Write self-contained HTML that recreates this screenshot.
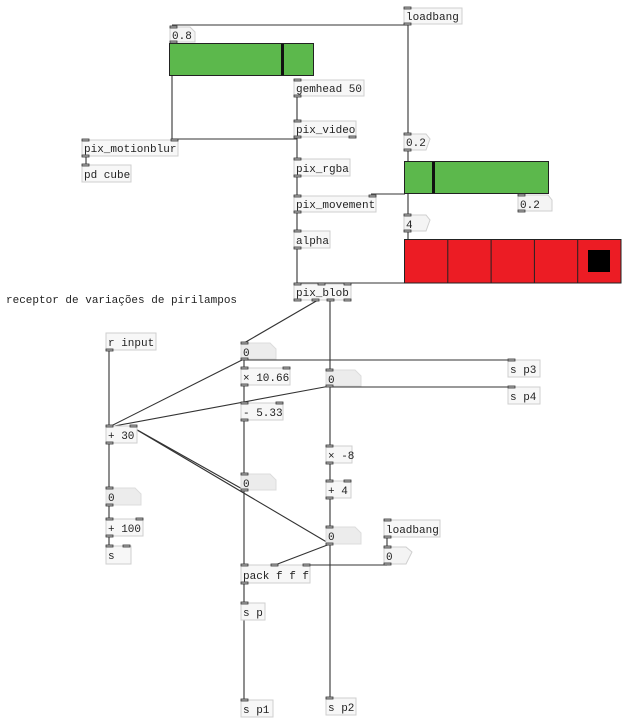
<!DOCTYPE html>
<html><head><meta charset="utf-8"><style>
html,body{margin:0;padding:0;background:#fff;width:624px;height:720px;overflow:hidden}
svg{display:block}
text{font-family:"Liberation Mono",monospace;font-size:11px;fill:#222}
.b{fill:#f7f7f7;stroke:#cfcfcf;stroke-width:1}
.n{fill:#ececec;stroke:#dcdcdc;stroke-width:1}
.f{fill:#f4f4f4;stroke:#cfcfcf;stroke-width:1}
.io{fill:#bbb;stroke:#333;stroke-width:0.8}
.w{stroke:#333;stroke-width:1.1;fill:none}
</style></head><body>
<svg width="624" height="720" viewBox="0 0 624 720" xmlns="http://www.w3.org/2000/svg">
<!-- wires -->
<g class="w">
<line x1="172" y1="25" x2="408" y2="25"/>
<line x1="408" y1="24" x2="408" y2="283"/>
<line x1="172" y1="76" x2="172" y2="140"/>
<line x1="172" y1="139" x2="297" y2="139"/>
<line x1="297" y1="96" x2="297" y2="284"/>
<line x1="86" y1="156" x2="86" y2="165"/>
<line x1="371" y1="194" x2="405" y2="194"/>
<line x1="297" y1="283" x2="405" y2="283"/>
<line x1="318" y1="300" x2="244" y2="343"/>
<line x1="330" y1="300" x2="330" y2="698"/>
<line x1="244" y1="359" x2="244" y2="700"/>
<line x1="244" y1="360" x2="510" y2="360"/>
<line x1="330" y1="387" x2="510" y2="387"/>
<line x1="109" y1="350" x2="109" y2="546"/>
<line x1="109" y1="427" x2="244" y2="359"/>
<line x1="109" y1="427" x2="330" y2="386"/>
<line x1="132" y1="427" x2="244" y2="490"/>
<line x1="132" y1="427" x2="330" y2="544"/>
<line x1="330" y1="544" x2="275" y2="565"/>
<line x1="300" y1="565" x2="387" y2="565"/>
<line x1="387" y1="537" x2="387" y2="547"/>
</g>
<!-- loadbang top -->
<rect class="b" x="404" y="8" width="58" height="16"/><text x="406" y="20">loadbang</text>
<!-- 0.8 -->
<path class="f" d="M170 27 H190 L195 32 V42 H170 Z"/><text x="172" y="39">0.8</text>
<!-- green slider 1 -->
<rect x="169.5" y="43.5" width="144" height="32" fill="#5cb84c" stroke="#222"/>
<rect x="281" y="44" width="3" height="31" fill="#111"/>
<!-- gemhead -->
<rect class="b" x="294" y="80" width="70" height="16"/><text x="296" y="92">gemhead 50</text>
<rect class="b" x="294" y="121" width="62" height="16"/><text x="296" y="133">pix_video</text>
<rect class="b" x="82" y="140" width="96" height="16"/><text x="84" y="152">pix_motionblur</text>
<rect class="b" x="82" y="165" width="49" height="17"/><text x="84" y="178">pd cube</text>
<rect class="b" x="294" y="159" width="56" height="17"/><text x="296" y="172">pix_rgba</text>
<rect class="b" x="294" y="196" width="82" height="16"/><text x="296" y="208">pix_movement</text>
<rect class="b" x="294" y="231" width="36" height="17"/><text x="296" y="244">alpha</text>
<rect class="b" x="294" y="284" width="57" height="16"/><text x="296" y="296">pix_blob</text>
<!-- 0.2 top -->
<path class="f" d="M404 134 H426 L430 139 L426 150 H404 Z"/><text x="406" y="146">0.2</text>
<!-- green slider 2 -->
<rect x="404.5" y="161.5" width="144" height="32" fill="#5cb84c" stroke="#222"/>
<rect x="432" y="162" width="3" height="31" fill="#111"/>
<path class="f" d="M518 195 H548 L552 200 V211 H518 Z"/><text x="520" y="208">0.2</text>
<!-- 4 -->
<path class="f" d="M404 215 H426 L430 220 L426 231 H404 Z"/><text x="406" y="228">4</text>
<!-- radio -->
<rect x="404.5" y="239.5" width="216.5" height="43.5" fill="#ec1c24" stroke="#222"/>
<g stroke="#222" stroke-width="1">
<line x1="447.8" y1="240" x2="447.8" y2="283"/>
<line x1="491.1" y1="240" x2="491.1" y2="283"/>
<line x1="534.4" y1="240" x2="534.4" y2="283"/>
<line x1="577.7" y1="240" x2="577.7" y2="283"/>
</g>
<rect x="588" y="250" width="22" height="22" fill="#000"/>
<text x="6" y="303">receptor de variações de pirilampos</text>
<rect class="b" x="106" y="333" width="50" height="17"/><text x="108" y="346">r input</text>
<!-- number 0a -->
<path class="n" d="M241 343 H270 L276 349 V359 H241 Z"/><text x="243" y="356">0</text>
<rect class="b" x="241" y="368" width="49" height="17"/><text x="243" y="381">× 10.66</text>
<path class="n" d="M326 370 H355 L361 376 V386 H326 Z"/><text x="328" y="383">0</text>
<rect class="b" x="508" y="360" width="32" height="17"/><text x="510" y="373">s p3</text>
<rect class="b" x="508" y="387" width="32" height="17"/><text x="510" y="400">s p4</text>
<rect class="b" x="241" y="403" width="42" height="17"/><text x="243" y="416">- 5.33</text>
<rect class="b" x="106" y="426" width="31" height="17"/><text x="108" y="439">+ 30</text>
<rect class="b" x="326" y="446" width="26" height="17"/><text x="328" y="459">× -8</text>
<path class="n" d="M241 474 H270 L276 480 V490 H241 Z"/><text x="243" y="487">0</text>
<rect class="b" x="326" y="481" width="25" height="17"/><text x="328" y="494">+ 4</text>
<path class="n" d="M106 488 H135 L141 494 V505 H106 Z"/><text x="108" y="501">0</text>
<rect class="b" x="106" y="519" width="37" height="17"/><text x="108" y="532">+ 100</text>
<rect class="b" x="106" y="546" width="25" height="18"/><text x="108" y="559">s</text>
<rect class="b" x="384" y="520" width="56" height="17"/><text x="386" y="533">loadbang</text>
<path class="n" d="M326 527 H355 L361 533 V544 H326 Z"/><text x="328" y="540">0</text>
<path class="f" d="M384 547 H406 L412 552 L406 564 H384 Z"/><text x="386" y="560">0</text>
<rect class="b" x="241" y="565" width="69" height="18"/><text x="243" y="579">pack f f f</text>
<rect class="b" x="241" y="603" width="24" height="17"/><text x="243" y="616">s p</text>
<rect class="b" x="241" y="700" width="32" height="17"/><text x="243" y="713">s p1</text>
<rect class="b" x="326" y="698" width="30" height="17"/><text x="328" y="711">s p2</text>
<!-- inlets/outlets -->
<g class="io">
<rect x="404" y="7" width="7" height="2"/><rect x="404" y="23" width="7" height="2"/>
<rect x="170" y="26" width="7" height="2"/><rect x="170" y="41" width="7" height="2"/>
<rect x="294" y="79" width="7" height="2"/><rect x="294" y="95" width="7" height="2"/>
<rect x="294" y="120" width="7" height="2"/><rect x="294" y="136" width="7" height="2"/><rect x="349" y="136" width="7" height="2"/>
<rect x="82" y="139" width="7" height="2"/><rect x="171" y="139" width="7" height="2"/><rect x="82" y="155" width="7" height="2"/>
<rect x="82" y="164" width="7" height="2"/>
<rect x="294" y="158" width="7" height="2"/><rect x="294" y="175" width="7" height="2"/>
<rect x="294" y="195" width="7" height="2"/><rect x="369" y="195" width="7" height="2"/><rect x="294" y="211" width="7" height="2"/>
<rect x="294" y="230" width="7" height="2"/><rect x="294" y="247" width="7" height="2"/>
<rect x="294" y="283" width="7" height="2"/><rect x="318" y="283" width="7" height="2"/><rect x="344" y="283" width="7" height="2"/>
<rect x="294" y="299" width="7" height="2"/><rect x="312" y="299" width="7" height="2"/><rect x="327" y="299" width="7" height="2"/><rect x="344" y="299" width="7" height="2"/>
<rect x="404" y="133" width="7" height="2"/><rect x="404" y="149" width="7" height="2"/>
<rect x="518" y="194" width="7" height="2"/><rect x="518" y="210" width="7" height="2"/>
<rect x="404" y="214" width="7" height="2"/><rect x="404" y="230" width="7" height="2"/>
<rect x="106" y="349" width="7" height="2"/>
<rect x="241" y="342" width="7" height="2"/><rect x="241" y="358" width="7" height="2"/>
<rect x="241" y="367" width="7" height="2"/><rect x="283" y="367" width="7" height="2"/><rect x="241" y="384" width="7" height="2"/>
<rect x="326" y="369" width="7" height="2"/><rect x="326" y="385" width="7" height="2"/>
<rect x="508" y="359" width="7" height="2"/><rect x="508" y="386" width="7" height="2"/>
<rect x="241" y="402" width="7" height="2"/><rect x="276" y="402" width="7" height="2"/><rect x="241" y="419" width="7" height="2"/>
<rect x="106" y="425" width="7" height="2"/><rect x="130" y="425" width="7" height="2"/><rect x="106" y="442" width="7" height="2"/>
<rect x="326" y="445" width="7" height="2"/><rect x="326" y="462" width="7" height="2"/>
<rect x="241" y="473" width="7" height="2"/><rect x="241" y="489" width="7" height="2"/>
<rect x="326" y="480" width="7" height="2"/><rect x="344" y="480" width="7" height="2"/><rect x="326" y="497" width="7" height="2"/>
<rect x="106" y="487" width="7" height="2"/><rect x="106" y="504" width="7" height="2"/>
<rect x="106" y="518" width="7" height="2"/><rect x="136" y="518" width="7" height="2"/><rect x="106" y="535" width="7" height="2"/>
<rect x="106" y="545" width="7" height="2"/><rect x="123" y="545" width="7" height="2"/>
<rect x="384" y="519" width="7" height="2"/><rect x="384" y="536" width="7" height="2"/>
<rect x="326" y="526" width="7" height="2"/><rect x="326" y="543" width="7" height="2"/>
<rect x="384" y="546" width="7" height="2"/><rect x="384" y="563" width="7" height="2"/>
<rect x="241" y="564" width="7" height="2"/><rect x="271" y="564" width="7" height="2"/><rect x="303" y="564" width="7" height="2"/><rect x="241" y="582" width="7" height="2"/>
<rect x="241" y="602" width="7" height="2"/>
<rect x="241" y="699" width="7" height="2"/><rect x="326" y="697" width="7" height="2"/>
</g>
</svg>
</body></html>
